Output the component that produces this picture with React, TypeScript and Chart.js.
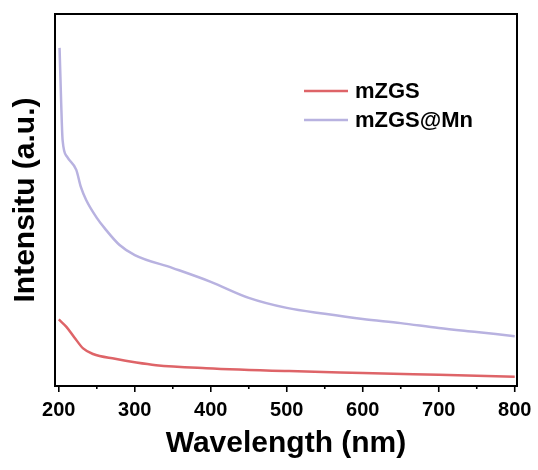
import React, { useEffect, useRef } from "react";
import { Chart, registerables } from "chart.js";

Chart.register(...registerables);

const seriesNames = ["mZGS", "mZGS@Mn"];
const seriesColors = ["#DE6468", "#B8B2E0"];

const mzgsWavelength = [200, 210, 220, 232, 245, 274, 302, 328, 394, 503, 600, 700, 800];
const mzgsIntensity = [17.9, 15.9, 13.2, 10.1, 8.6, 7.3, 6.3, 5.6, 4.8, 4.0, 3.5, 3.0, 2.5];

const mnWavelength = [201, 203, 205, 211, 223, 229, 236, 250, 260, 280, 300, 350, 400, 450, 500, 550, 600, 650, 700, 750, 800];
const mnIntensity = [90.9, 76.9, 66.1, 61.6, 58.1, 53.5, 50.0, 45.2, 42.5, 37.9, 35.2, 31.7, 28.0, 23.7, 21.0, 19.4, 18.0, 16.9, 15.6, 14.5, 13.4];

const xTicks = [200, 250, 300, 350, 400, 450, 500, 550, 600, 650, 700, 750, 800];
const xMin = 195;
const xMax = 803;

const toPoints = (xs: number[], ys: number[]) => xs.map((x, i) => ({ x, y: ys[i] }));

const FONT = "'Liberation Sans', Arial, sans-serif";

export default function App() {
  const ref = useRef<HTMLCanvasElement | null>(null);

  useEffect(() => {
    document.body.style.margin = "0";
    const canvas = ref.current;
    if (!canvas) return;

    const framePlugin = {
      id: "frame",
      afterDraw(chart: any) {
        const { ctx, chartArea } = chart;
        const xs = chart.scales.x;
        ctx.save();
        ctx.strokeStyle = "#000";
        ctx.lineWidth = 2;
        ctx.strokeRect(chartArea.left, chartArea.top, chartArea.right - chartArea.left, chartArea.bottom - chartArea.top);
        ctx.lineWidth = 1.6;
        xTicks.forEach((v) => {
          const px = xs.getPixelForValue(v);
          const len = v % 100 === 0 ? 6 : 3;
          ctx.beginPath();
          ctx.moveTo(px, chartArea.bottom);
          ctx.lineTo(px, chartArea.bottom + len);
          ctx.stroke();
        });
        // legend
        const lx = 304, ly = 91, gap = 29;
        ctx.font = "bold 22px " + FONT;
        ctx.textBaseline = "middle";
        ctx.textAlign = "left";
        seriesNames.forEach((name, i) => {
          ctx.strokeStyle = seriesColors[i];
          ctx.lineWidth = 2.5;
          ctx.beginPath();
          ctx.moveTo(lx, ly + i * gap);
          ctx.lineTo(lx + 44, ly + i * gap);
          ctx.stroke();
          ctx.fillStyle = "#000";
          ctx.fillText(name, lx + 51, ly + i * gap + 1);
        });
        ctx.restore();
      },
    };

    const chart = new Chart(canvas, {
      type: "line",
      data: {
        datasets: [
          {
            label: seriesNames[0],
            data: toPoints(mzgsWavelength, mzgsIntensity),
            borderColor: seriesColors[0],
            borderWidth: 2.5,
            pointRadius: 0,
            cubicInterpolationMode: "monotone",
          },
          {
            label: seriesNames[1],
            data: toPoints(mnWavelength, mnIntensity),
            borderColor: seriesColors[1],
            borderWidth: 2.5,
            pointRadius: 0,
            cubicInterpolationMode: "monotone",
          },
        ],
      },
      options: {
        animation: false,
        responsive: false,
        layout: { padding: { top: 14, right: 21, left: 0, bottom: 0 } },
        plugins: { legend: { display: false }, tooltip: { enabled: false } },
        scales: {
          x: {
            type: "linear",
            min: xMin,
            max: xMax,
            afterBuildTicks: (scale: any) => {
              scale.ticks = xTicks.map((v) => ({ value: v }));
            },
            afterFit: (scale: any) => {
              scale.height = 84;
              scale.paddingLeft = 0;
              scale.paddingRight = 0;
            },
            grid: { display: false, drawTicks: false },
            border: { display: false },
            ticks: {
              autoSkip: false,
              maxRotation: 0,
              padding: 12,
              color: "#000",
              font: { family: FONT, size: 20, weight: "bold" },
              callback: (v: any) => (Number(v) % 100 === 0 ? String(v) : ""),
            },
            title: {
              display: true,
              text: "Wavelength (nm)",
              color: "#000",
              padding: 8,
              font: { family: FONT, size: 30, weight: "bold" },
            },
          },
          y: {
            min: 0,
            max: 100,
            afterFit: (scale: any) => {
              scale.width = 55;
              scale.paddingTop = 0;
              scale.paddingBottom = 0;
            },
            grid: { display: false, drawTicks: false },
            border: { display: false },
            ticks: { display: false },
            title: {
              display: true,
              text: "Intensitu (a.u.)",
              color: "#000",
              padding: 8,
              font: { family: FONT, size: 30, weight: "bold" },
            },
          },
        },
      },
      plugins: [framePlugin],
    } as any);

    return () => chart.destroy();
  }, []);

  return <canvas ref={ref} width={538} height={470} style={{ display: "block" }} />;
}
